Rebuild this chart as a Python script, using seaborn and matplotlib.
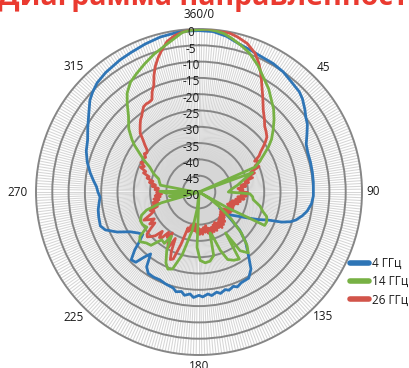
import numpy as np
import pandas as pd
import matplotlib
matplotlib.use("Agg")
import matplotlib.pyplot as plt
import seaborn as sns
from matplotlib.lines import Line2D
from matplotlib.transforms import offset_copy

# ---------------- data ----------------
series_names = ["4 ГГц", "14 ГГц", "26 ГГц"]
series_colors = ["#2e75b6", "#77b144", "#d2544a"]

angle_4 = [0, 5, 10, 15, 20, 25, 30, 35, 40, 45, 48, 52, 55, 58, 62, 66, 70, 75, 80, 85,
           88, 92, 96, 100, 103, 106, 108, 110, 112, 115, 118, 122, 126, 128, 130, 133,
           137, 140, 143, 146, 150, 155, 158, 160, 163, 165, 168, 170, 173, 175, 178, 180,
           183, 185, 188, 190, 193, 195, 200, 204, 208, 212, 215, 218, 220, 222, 225, 228,
           230, 233, 236, 240, 244, 248, 251, 256, 260, 264, 267, 270, 273, 276, 280, 285,
           290, 295, 300, 305, 310, 313, 317, 322, 329, 334, 340, 346, 352, 356]
db_4 = [-0.5, -0.6, -1.5, -2.9, -3.7, -4.3, -4.5, -5.0, -5.9, -6.5, -7.3, -8.8, -10.0, -10.8,
        -12.5, -14.0, -14.5, -14.6, -14.7, -14.8, -14.9, -14.9, -15.3, -16.3, -17.5, -19.0,
        -20.5, -23.0, -27.0, -30.0, -33.0, -36.0, -38.0, -42.0, -38.0, -33.0, -29.0, -27.0,
        -24.5, -21.5, -19.5, -19.3, -18.6, -19.2, -18.5, -19.0, -18.2, -18.8, -18.0, -18.6,
        -17.8, -18.3, -17.6, -18.6, -18.0, -19.0, -18.6, -19.5, -20.0, -20.5, -20.4, -20.6,
        -22.0, -25.9, -24.0, -21.0, -20.6, -23.5, -26.0, -28.4, -27.5, -25.6, -22.0, -19.0,
        -18.0, -18.3, -18.6, -19.2, -19.6, -19.0, -18.5, -17.5, -16.1, -14.5, -13.2, -12.3,
        -10.6, -8.7, -6.3, -5.3, -4.2, -3.5, -2.8, -2.4, -1.7, -1.0, -0.6, -0.5]

angle_14 = [0, 3, 6, 9, 12, 16, 20, 25, 29, 34, 38, 42, 46, 50, 54, 57, 60, 63, 66, 67.5,
            70, 75, 80, 85, 90, 92, 95, 98, 103, 107, 110, 114, 117, 119, 120, 122, 126,
            130, 134, 138, 141, 145, 147, 149, 153, 157, 160, 163, 165, 167, 171, 175, 179,
            182, 184, 186, 190, 195, 199, 202, 205, 209, 212, 214, 218, 222, 226, 230, 233,
            236, 240, 244, 248, 251, 254, 256, 258, 262, 265, 268, 271, 275, 280, 284, 288,
            292, 297, 300, 303, 306, 308, 312, 317, 321, 324, 328, 332, 337, 342, 348, 354,
            357]
db_14 = [-0.2, 0.0, -0.3, -0.8, -1.8, -3.2, -4.7, -7.2, -9.5, -11.8, -14.0, -15.8, -18.0,
         -20.3, -22.5, -24.6, -27.0, -29.0, -31.2, -50.0, -32.5, -36.0, -38.0, -40.0, -41.0,
         -34.4, -33.5, -33.2, -30.8, -29.5, -27.9, -27.3, -27.4, -40.0, -50.0, -46.0, -42.0,
         -37.0, -32.0, -28.0, -26.0, -28.0, -35.0, -26.0, -26.5, -27.5, -31.0, -36.0, -37.0,
         -30.0, -28.5, -28.2, -29.0, -33.0, -50.0, -45.0, -38.0, -30.0, -25.0, -24.5, -26.0,
         -29.6, -34.0, -31.0, -31.4, -28.0, -27.5, -26.3, -27.3, -30.7, -30.0, -30.0, -31.0,
         -33.0, -38.0, -50.0, -42.0, -40.8, -50.0, -40.0, -38.0, -48.0, -38.0, -37.5, -37.0,
         -35.0, -33.0, -30.5, -28.3, -25.5, -23.9, -21.0, -18.3, -15.0, -12.5, -10.3, -9.0,
         -7.3, -5.5, -3.5, -0.8, -0.3]

angle_26 = [0, 4, 8, 11, 14, 18, 22, 25, 27, 29, 31, 34, 38, 42, 45, 48, 51, 53, 55, 57,
            59, 61, 63, 65, 67, 69, 71, 73, 75, 77, 79, 81, 83, 85, 87, 89, 91, 93, 95, 97,
            99, 101, 103, 105, 107, 109, 111, 113, 115, 117, 119, 121, 123, 125, 127, 129,
            131, 133, 135, 137, 139, 141, 143, 145, 147, 149, 151, 153, 155, 157, 159, 161,
            163, 165, 167, 169, 171, 173, 175, 177, 179, 181, 183, 185, 187, 189, 191, 193,
            195, 197, 199, 201, 203, 205, 207, 209, 211, 213, 215, 217, 219, 221, 223, 225,
            227, 229, 231, 233, 235, 237, 239, 241, 243, 245, 247, 249, 251, 253, 255, 257,
            259, 261, 263, 265, 267, 269, 271, 273, 275, 277, 279, 281, 283, 285, 287, 289,
            291, 293, 295, 297, 299, 301, 303, 305, 307, 309, 311, 313, 315, 317, 319, 321,
            323, 325, 327, 329, 331, 333, 335, 337, 339, 341, 343, 345, 348, 351, 354, 357]
db_26 = [0.0, 0.0, -0.2, -0.4, -1.0, -2.1, -4.1, -6.5, -8.5, -10.5, -12.5, -15.0, -18.0,
         -20.0, -21.5, -22.3, -23.2, -24.5, -26.0, -27.5, -28.5, -30.5, -29.0, -31.0, -30.0,
         -33.0, -32.0, -34.5, -33.0, -35.5, -34.5, -37.0, -35.5, -38.0, -36.5, -37.5, -35.0,
         -37.0, -35.5, -38.0, -36.0, -38.5, -37.0, -39.5, -37.5, -40.0, -38.5, -40.5, -38.5,
         -40.0, -38.0, -40.0, -38.5, -41.0, -39.0, -41.5, -39.5, -41.0, -39.0, -40.5, -38.0,
         -40.0, -37.5, -39.5, -37.0, -39.0, -37.5, -39.5, -37.0, -39.0, -37.0, -38.5, -36.5,
         -38.5, -37.0, -39.5, -37.5, -39.0, -37.0, -38.5, -37.0, -39.0, -37.5, -40.0, -38.0,
         -40.5, -38.0, -39.5, -37.5, -38.5, -33.0, -28.0, -27.5, -30.0, -34.0, -30.5, -31.5,
         -35.0, -33.0, -34.5, -32.0, -31.5, -33.5, -31.0, -30.0, -29.0, -29.5, -31.5, -33.5,
         -32.0, -34.0, -32.5, -31.0, -33.5, -35.0, -34.0, -36.5, -35.0, -37.0, -35.5, -37.5,
         -36.0, -38.0, -36.5, -38.5, -37.0, -38.0, -36.5, -37.5, -35.5, -36.5, -34.5, -35.5,
         -33.5, -34.0, -32.0, -32.5, -30.5, -31.5, -30.0, -31.0, -30.0, -30.5, -29.5, -30.0,
         -29.5, -28.0, -26.5, -24.5, -23.5, -22.5, -21.5, -20.8, -19.8, -18.8, -18.5, -18.5,
         -18.2, -16.0, -14.5, -11.5, -9.0, -7.0, -5.3, -2.8, -1.5, -0.7, -0.2]

radial_ticks = [0, -5, -10, -15, -20, -25, -30, -35, -40, -45, -50]
angle_tick_values = [0, 45, 90, 135, 180, 225, 270, 315]
angle_tick_labels = ["360/0", "45", "90", "135", "180", "225", "270", "315"]
title_text = "Диаграмма направленности"

# ---------------- figure ----------------
sns.set_theme(style="white")
plt.rcParams["font.family"] = ["Open Sans", "DejaVu Sans"]

W, H = 410, 368
fig = plt.figure(figsize=(W / 100, H / 100), dpi=100)
cx, cy, R = 199, 192, 163
ax = fig.add_axes([(cx - R) / W, (H - cy - R) / H, 2 * R / W, 2 * R / H], projection="polar")
ax.set_theta_zero_location("N")
ax.set_theta_direction(-1)
ax.set_ylim(-50, 0)
ax.set_facecolor("white")

ax.set_xticks(np.deg2rad(np.arange(0, 360, 1)))
ax.set_xticklabels([])
ax.set_yticks(radial_ticks[1:-1])
ax.set_yticklabels([])
ax.xaxis.grid(True, color="#d6d6d6", linewidth=0.75)
ax.yaxis.grid(True, color="#868686", linewidth=1.4)
ax.spines["polar"].set_color("#868686")
ax.spines["polar"].set_linewidth(1.4)
ax.tick_params(length=0)

frames = []
for name, angs, vals in [(series_names[0], angle_4, db_4),
                         (series_names[1], angle_14, db_14),
                         (series_names[2], angle_26, db_26)]:
    a = list(angs) + [angs[0] + 360]
    v = list(vals) + [vals[0]]
    frames.append(pd.DataFrame({"theta": np.deg2rad(a), "db": v, "series": name}))

zorders = {series_names[0]: 3, series_names[2]: 4, series_names[1]: 5}
for df, color in zip(frames, series_colors):
    name = df["series"].iloc[0]
    sns.lineplot(data=df, x="theta", y="db", sort=False, estimator=None, ax=ax,
                 color=color, linewidth=2.0, zorder=zorders[name], legend=False)
ax.set_xlabel("")
ax.set_ylabel("")
ax.set_ylim(-50, 0)

# radial labels
tr = offset_copy(ax.transData, fig=fig, x=-8, y=-4, units="dots")
for v in radial_ticks:
    ax.text(0, v, str(v), transform=tr, ha="center", va="center",
            fontsize=8.5, color="#1a1a1a", zorder=6)

# angular labels
label_r = {0: 178, 45: 176, 90: 174, 135: 176, 180: 175, 225: 178, 270: 181, 315: 178}
for ang, lab in zip(angle_tick_values, angle_tick_labels):
    rr = -50 + label_r[ang] / R * 50
    ax.text(np.deg2rad(ang), rr, lab, ha="center", va="center", fontsize=8.5,
            color="#1a1a1a", clip_on=False)

# title (partially cut off at top of the image, as in the reference)
fig.text(-2 / W, 1 - 5 / H, title_text, ha="left", va="baseline", fontsize=20.5,
         fontweight="bold", color="#ea3a30")

# legend
handles = [Line2D([0], [0], color=c, lw=4, solid_capstyle="round") for c in series_colors]
leg = fig.legend(handles, series_names, loc="upper left",
                 bbox_to_anchor=(350 / W, 1 - 257 / H), frameon=False, fontsize=8.5,
                 handlelength=1.6, handletextpad=0.3, labelspacing=0.45, borderpad=0,
                 borderaxespad=0)
for t in leg.get_texts():
    t.set_color("#1a1a1a")

fig.savefig("out.png", dpi=100)
